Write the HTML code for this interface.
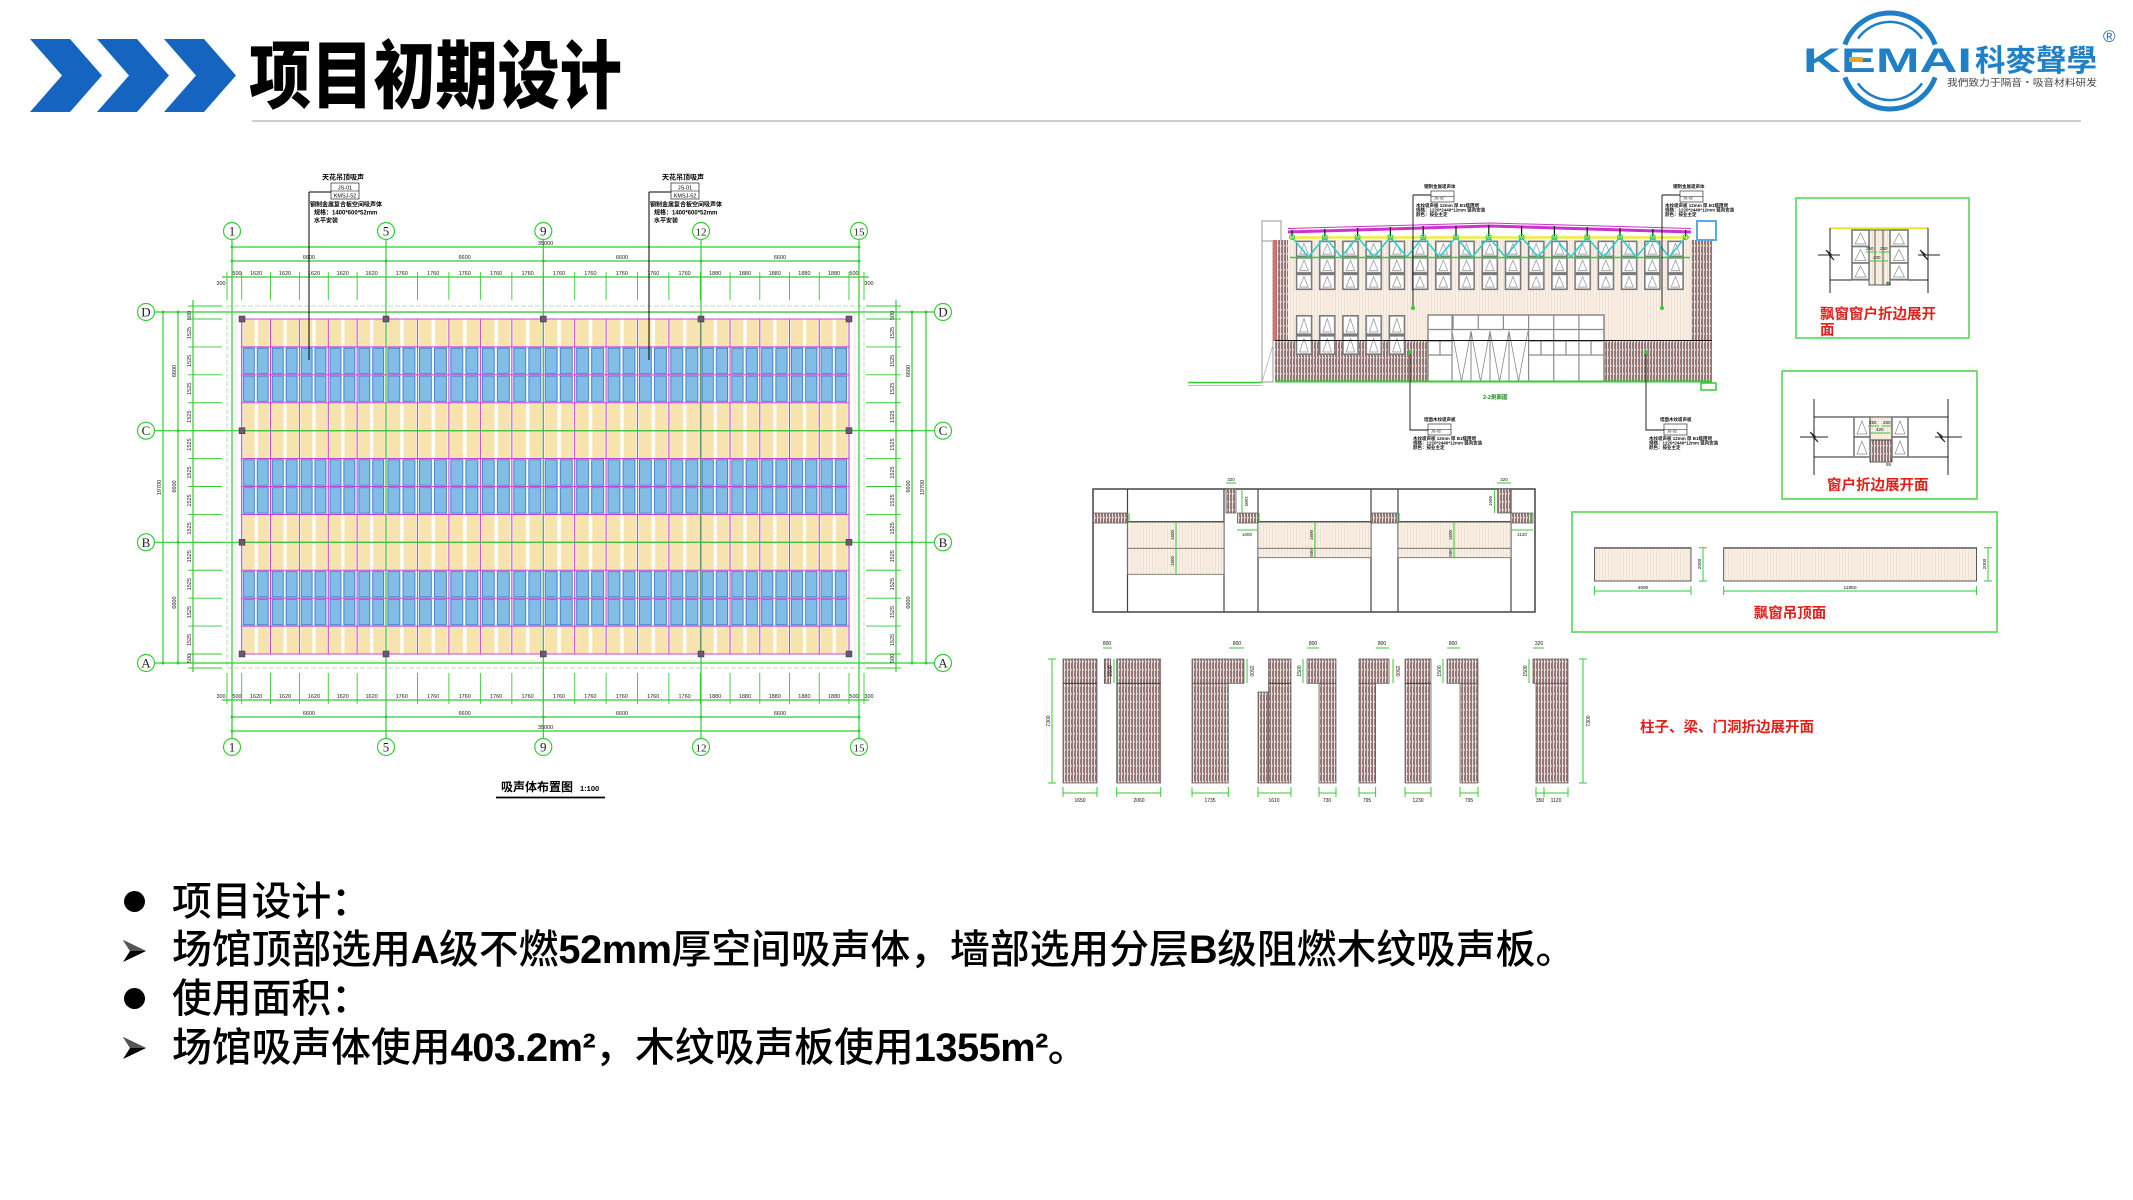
<!DOCTYPE html>
<html><head><meta charset="utf-8">
<style>
html,body{margin:0;padding:0;background:#fff;}
body{width:2133px;height:1200px;position:relative;overflow:hidden;font-family:"Liberation Sans","Noto Sans CJK SC",sans-serif;}
svg{position:absolute;left:0;top:0;}
.t{position:absolute;left:172px;font-size:39.8px;line-height:39.8px;white-space:nowrap;color:#000;font-weight:500;}
.t b{font-family:"Liberation Sans",sans-serif;font-weight:bold;letter-spacing:-0.5px;}
.title{position:absolute;left:249px;top:40px;font-size:74px;line-height:74px;font-weight:900;transform:scaleX(0.84);transform-origin:0 0;white-space:nowrap;color:#000;font-family:"Liberation Sans","Noto Sans CJK SC",sans-serif;}
.dot{position:absolute;left:124px;width:21px;height:21px;border-radius:50%;background:#000;}
</style></head><body>

<svg width="2133" height="1200" viewBox="0 0 2133 1200" xmlns="http://www.w3.org/2000/svg" font-family="Liberation Sans, Noto Sans CJK SC, sans-serif">
<defs>
<pattern id="pg1" patternUnits="userSpaceOnUse" x="241.7" y="319" width="28.86" height="111.67">
 <rect x="1.15" y="0" width="11.83" height="27.92" fill="#f6e3ae"/><rect x="16.16" y="0" width="11.54" height="27.92" fill="#f6e3ae"/>
 <rect x="1.15" y="83.75" width="11.83" height="27.92" fill="#f6e3ae"/><rect x="16.16" y="83.75" width="11.54" height="27.92" fill="#f6e3ae"/>
 <g fill="#82bde5" stroke="#3777d2" stroke-width="0.9">
 <rect x="1.73" y="29.1" width="10.97" height="25.5"/><rect x="15.58" y="29.1" width="10.97" height="25.5"/>
 <rect x="1.73" y="57" width="10.97" height="25.5"/><rect x="15.58" y="57" width="10.97" height="25.5"/></g>
</pattern>
<pattern id="pg2" patternUnits="userSpaceOnUse" x="386" y="319" width="31.46" height="111.67">
 <rect x="1.26" y="0" width="12.9" height="27.92" fill="#f6e3ae"/><rect x="17.62" y="0" width="12.58" height="27.92" fill="#f6e3ae"/>
 <rect x="1.26" y="83.75" width="12.9" height="27.92" fill="#f6e3ae"/><rect x="17.62" y="83.75" width="12.58" height="27.92" fill="#f6e3ae"/>
 <g fill="#82bde5" stroke="#3777d2" stroke-width="0.9">
 <rect x="1.89" y="29.1" width="11.95" height="25.5"/><rect x="16.99" y="29.1" width="11.95" height="25.5"/>
 <rect x="1.89" y="57" width="11.95" height="25.5"/><rect x="16.99" y="57" width="11.95" height="25.5"/></g>
</pattern>
<pattern id="pg3" patternUnits="userSpaceOnUse" x="543.3" y="319" width="31.4" height="111.67">
 <rect x="1.26" y="0" width="12.87" height="27.92" fill="#f6e3ae"/><rect x="17.58" y="0" width="12.56" height="27.92" fill="#f6e3ae"/>
 <rect x="1.26" y="83.75" width="12.87" height="27.92" fill="#f6e3ae"/><rect x="17.58" y="83.75" width="12.56" height="27.92" fill="#f6e3ae"/>
 <g fill="#82bde5" stroke="#3777d2" stroke-width="0.9">
 <rect x="1.88" y="29.1" width="11.93" height="25.5"/><rect x="16.96" y="29.1" width="11.93" height="25.5"/>
 <rect x="1.88" y="57" width="11.93" height="25.5"/><rect x="16.96" y="57" width="11.93" height="25.5"/></g>
</pattern>
<pattern id="pg4" patternUnits="userSpaceOnUse" x="700.3" y="319" width="29.74" height="111.67">
 <rect x="1.19" y="0" width="12.19" height="27.92" fill="#f6e3ae"/><rect x="16.65" y="0" width="11.9" height="27.92" fill="#f6e3ae"/>
 <rect x="1.19" y="83.75" width="12.19" height="27.92" fill="#f6e3ae"/><rect x="16.65" y="83.75" width="11.9" height="27.92" fill="#f6e3ae"/>
 <g fill="#82bde5" stroke="#3777d2" stroke-width="0.9">
 <rect x="1.78" y="29.1" width="11.3" height="25.5"/><rect x="16.06" y="29.1" width="11.3" height="25.5"/>
 <rect x="1.78" y="57" width="11.3" height="25.5"/><rect x="16.06" y="57" width="11.3" height="25.5"/></g>
</pattern>
<pattern id="brick" patternUnits="userSpaceOnUse" width="3" height="8">
 <rect width="3" height="8" fill="#937775"/><rect x="2" width="1" height="8" fill="#eadfdf"/><rect x="0" y="5" width="1" height="1.5" fill="#ddd0d0"/>
</pattern>
<pattern id="beige" patternUnits="userSpaceOnUse" width="3" height="10">
 <rect width="3" height="10" fill="#f9efe4"/><rect width="0.6" height="10" fill="#e9d9c6"/>
</pattern>
<pattern id="win" patternUnits="userSpaceOnUse" x="1295.7" y="240.6" width="23.22" height="16.5">
 <rect x="0.8" y="0.8" width="15.1" height="14.9" fill="#fff" stroke="#7a7a7a" stroke-width="1.6"/>
 <path d="M4 13.5 L8.3 3 L12.6 13.5 Z" fill="none" stroke="#8a8a8a" stroke-width="0.7"/>
</pattern>
<pattern id="win2" patternUnits="userSpaceOnUse" x="1295.7" y="315" width="23.22" height="20">
 <rect x="0.8" y="0.8" width="15.1" height="18.4" fill="#fff" stroke="#7a7a7a" stroke-width="1.6"/>
 <path d="M4 17 L8.3 3.5 L12.6 17 Z" fill="none" stroke="#8a8a8a" stroke-width="0.7"/>
</pattern>
</defs>

<!-- header chevrons -->
<g fill="#1565c0">
<polygon points="30,39 70,39 102,75.5 70,112 30,112 62,75.5"/>
<polygon points="97,39 137,39 169,75.5 137,112 97,112 129,75.5"/>
<polygon points="164,39 204,39 236,75.5 204,112 164,112 196,75.5"/>
</g>
<rect x="252" y="120" width="1829" height="2" fill="#cfcfcf"/>

<!-- logo -->
<g fill="none" stroke="#1f7fc6">
<path d="M1844.9 44.6 A48 48 0 0 1 1935.1 44.6" stroke-width="5"/>
<path d="M1935.1 77.4 A48 48 0 0 1 1844.9 77.4" stroke-width="5"/>
<path d="M1858 38.6 A39 39 0 0 1 1922 38.6" stroke-width="2.5"/>
<path d="M1922 83.4 A39 39 0 0 1 1858 83.4" stroke-width="2.5"/>
</g>
<rect x="1818" y="47" width="168" height="26" fill="#fff"/>
<text x="1803" y="72" font-size="34" font-weight="bold" fill="#1f80c8" textLength="169" lengthAdjust="spacingAndGlyphs">KEMAI</text>
<rect x="1849" y="57" width="14" height="5" fill="#f0a030"/>
<text x="1975" y="71" font-size="30" font-weight="bold" fill="#1f80c8" textLength="122" lengthAdjust="spacingAndGlyphs">科麥聲學</text>
<text x="1947" y="86" font-size="9.5" fill="#444" textLength="150" lengthAdjust="spacingAndGlyphs">我們致力于隔音・吸音材料研发</text>
<text x="2103" y="42" font-size="17" fill="#1f6fb5">®</text>

<!-- ============ PLAN ============ -->
<rect x="227" y="306" width="637" height="362" fill="none" stroke="#cfcfcf" stroke-width="1" stroke-dasharray="5 2"/>
<rect x="236" y="313" width="619" height="348" fill="none" stroke="#dedede" stroke-width="0.8"/>
<rect x="241.7" y="319" width="144.3" height="335" fill="url(#pg1)"/>
<rect x="386" y="319" width="157.3" height="335" fill="url(#pg2)"/>
<rect x="543.3" y="319" width="157" height="335" fill="url(#pg3)"/>
<rect x="700.3" y="319" width="148.7" height="335" fill="url(#pg4)"/>
<path fill="none" stroke="#c844d4" stroke-width="1.1" d="M241.7 319V654M270.56 319V654M299.42 319V654M328.28 319V654M357.14 319V654M386 319V654M417.46 319V654M448.92 319V654M480.38 319V654M511.84 319V654M543.3 319V654M574.7 319V654M606.1 319V654M637.5 319V654M668.9 319V654M700.3 319V654M730.04 319V654M759.78 319V654M789.52 319V654M819.26 319V654M849 319V654M241.7 319H849M241.7 346.92H849M241.7 374.83H849M241.7 402.75H849M241.7 430.67H849M241.7 458.58H849M241.7 486.5H849M241.7 514.42H849M241.7 542.33H849M241.7 570.25H849M241.7 598.17H849M241.7 626.08H849M241.7 654H849"/>

<!-- green grid -->
<g stroke="#33cc33" stroke-width="1.2" fill="none">
<path d="M232 239V739M386 239V739M543.3 239V739M701 239V739M859 239V739"/>
<path d="M154 312H935M154 430.7H935M154 542.3H935M154 663H935"/>
<path d="M232 247H859M232 261H859M222 277H869M222 700H869M232 717H859M232 731H859"/>
<path d="M163 312V663M178 312V663M193 300V672M896 300V672M912 312V663M926 312V663"/>
<path stroke-width="0.9" d="M227 272V300M232 272V300M241.7 272V300M270.56 272V300M299.42 272V300M328.28 272V300M357.14 272V300M386 272V300M417.46 272V300M448.92 272V300M480.38 272V300M511.84 272V300M543.3 272V300M574.7 272V300M606.1 272V300M637.5 272V300M668.9 272V300M700.3 272V300M730.04 272V300M759.78 272V300M789.52 272V300M819.26 272V300M849 272V300M859 272V300M864 272V300"/>
<path stroke-width="0.9" d="M227 673V704M232 673V704M241.7 673V704M270.56 673V704M299.42 673V704M328.28 673V704M357.14 673V704M386 673V704M417.46 673V704M448.92 673V704M480.38 673V704M511.84 673V704M543.3 673V704M574.7 673V704M606.1 673V704M637.5 673V704M668.9 673V704M700.3 673V704M730.04 673V704M759.78 673V704M789.52 673V704M819.26 673V704M849 673V704M859 673V704M864 673V704"/>
<path stroke-width="0.9" d="M188 306H222M188 312H222M188 319H222M188 346.92H222M188 374.83H222M188 402.75H222M188 430.67H222M188 458.58H222M188 486.5H222M188 514.42H222M188 542.33H222M188 570.25H222M188 598.17H222M188 626.08H222M188 654H222M188 663H222M188 668H222"/>
<path stroke-width="0.9" d="M866 306H901M866 312H901M866 319H901M866 346.92H901M866 374.83H901M866 402.75H901M866 430.67H901M866 458.58H901M866 486.5H901M866 514.42H901M866 542.33H901M866 570.25H901M866 598.17H901M866 626.08H901M866 654H901M866 663H901M866 668H901"/>
</g>
<g fill="#33cc33">
<circle cx="232" cy="247" r="1.5"/><circle cx="859" cy="247" r="1.5"/><circle cx="232" cy="261" r="1.5"/><circle cx="386" cy="261" r="1.5"/><circle cx="543.3" cy="261" r="1.5"/><circle cx="701" cy="261" r="1.5"/><circle cx="859" cy="261" r="1.5"/>
<circle cx="232" cy="731" r="1.5"/><circle cx="859" cy="731" r="1.5"/><circle cx="232" cy="717" r="1.5"/><circle cx="386" cy="717" r="1.5"/><circle cx="543.3" cy="717" r="1.5"/><circle cx="701" cy="717" r="1.5"/><circle cx="859" cy="717" r="1.5"/>
<circle cx="163" cy="312" r="1.5"/><circle cx="163" cy="663" r="1.5"/><circle cx="178" cy="312" r="1.5"/><circle cx="178" cy="430.7" r="1.5"/><circle cx="178" cy="542.3" r="1.5"/><circle cx="178" cy="663" r="1.5"/>
<circle cx="926" cy="312" r="1.5"/><circle cx="926" cy="663" r="1.5"/><circle cx="912" cy="312" r="1.5"/><circle cx="912" cy="430.7" r="1.5"/><circle cx="912" cy="542.3" r="1.5"/><circle cx="912" cy="663" r="1.5"/>
</g>

<!-- axis circles -->
<g fill="#fff" stroke="#33cc33" stroke-width="1.2">
<circle cx="232" cy="231" r="8.5"/><circle cx="386" cy="231" r="8.5"/><circle cx="543.3" cy="231" r="8.5"/><circle cx="701" cy="231" r="8.5"/><circle cx="859" cy="231" r="8.5"/>
<circle cx="232" cy="747" r="8.5"/><circle cx="386" cy="747" r="8.5"/><circle cx="543.3" cy="747" r="8.5"/><circle cx="701" cy="747" r="8.5"/><circle cx="859" cy="747" r="8.5"/>
<circle cx="146" cy="312" r="8.5"/><circle cx="146" cy="430.7" r="8.5"/><circle cx="146" cy="542.3" r="8.5"/><circle cx="146" cy="663" r="8.5"/>
<circle cx="943" cy="312" r="8.5"/><circle cx="943" cy="430.7" r="8.5"/><circle cx="943" cy="542.3" r="8.5"/><circle cx="943" cy="663" r="8.5"/>
</g>
<g font-family="Liberation Serif, serif" font-size="13" fill="#222" text-anchor="middle">
<text x="232" y="235.5">1</text><text x="386" y="235.5">5</text><text x="543.3" y="235.5">9</text><text x="701" y="235.5" font-size="11">12</text><text x="859" y="235.5" font-size="11">15</text>
<text x="232" y="751.5">1</text><text x="386" y="751.5">5</text><text x="543.3" y="751.5">9</text><text x="701" y="751.5" font-size="11">12</text><text x="859" y="751.5" font-size="11">15</text>
<text x="146" y="316.5">D</text><text x="146" y="435.2">C</text><text x="146" y="546.8">B</text><text x="146" y="667.5">A</text>
<text x="943" y="316.5">D</text><text x="943" y="435.2">C</text><text x="943" y="546.8">B</text><text x="943" y="667.5">A</text>
</g>

<!-- column markers -->
<g fill="#6a5a70" stroke="#333" stroke-width="0.5">
<rect x="239" y="316" width="6" height="6"/><rect x="383" y="316" width="6" height="6"/><rect x="540.3" y="316" width="6" height="6"/><rect x="698" y="316" width="6" height="6"/><rect x="846" y="316" width="6" height="6"/>
<rect x="239" y="651" width="6" height="6"/><rect x="383" y="651" width="6" height="6"/><rect x="540.3" y="651" width="6" height="6"/><rect x="698" y="651" width="6" height="6"/><rect x="846" y="651" width="6" height="6"/>
<rect x="239" y="427.7" width="6" height="6"/><rect x="846" y="427.7" width="6" height="6"/><rect x="239" y="539.3" width="6" height="6"/><rect x="846" y="539.3" width="6" height="6"/>
</g>

<!-- plan dim text -->
<g font-size="5.5" fill="#222" text-anchor="middle">
<text x="545.5" y="245">35000</text>
<text x="309" y="259">6600</text><text x="464.6" y="259">6600</text><text x="622" y="259">6600</text><text x="780" y="259">6600</text>
<text x="221" y="285">300</text><text x="237" y="275">500</text><text x="854" y="275">500</text><text x="869" y="285">300</text>
<text x="256.1" y="275">1620</text><text x="285" y="275">1620</text><text x="313.9" y="275">1620</text><text x="342.7" y="275">1620</text><text x="371.6" y="275">1620</text>
<text x="401.7" y="275">1760</text><text x="433.2" y="275">1760</text><text x="464.7" y="275">1760</text><text x="496.1" y="275">1760</text><text x="527.6" y="275">1760</text>
<text x="559" y="275">1760</text><text x="590.4" y="275">1760</text><text x="621.8" y="275">1760</text><text x="653.2" y="275">1760</text><text x="684.6" y="275">1760</text>
<text x="715.2" y="275">1880</text><text x="744.9" y="275">1880</text><text x="774.7" y="275">1880</text><text x="804.4" y="275">1880</text><text x="834.1" y="275">1880</text>
<text x="221" y="698">300</text><text x="237" y="698">500</text><text x="854" y="698">500</text><text x="869" y="698">300</text>
<text x="256.1" y="698">1620</text><text x="285" y="698">1620</text><text x="313.9" y="698">1620</text><text x="342.7" y="698">1620</text><text x="371.6" y="698">1620</text>
<text x="401.7" y="698">1760</text><text x="433.2" y="698">1760</text><text x="464.7" y="698">1760</text><text x="496.1" y="698">1760</text><text x="527.6" y="698">1760</text>
<text x="559" y="698">1760</text><text x="590.4" y="698">1760</text><text x="621.8" y="698">1760</text><text x="653.2" y="698">1760</text><text x="684.6" y="698">1760</text>
<text x="715.2" y="698">1880</text><text x="744.9" y="698">1880</text><text x="774.7" y="698">1880</text><text x="804.4" y="698">1880</text><text x="834.1" y="698">1880</text>
<text x="309" y="715">6600</text><text x="464.6" y="715">6600</text><text x="622" y="715">6600</text><text x="780" y="715">6600</text>
<text x="545.5" y="729">35000</text>
</g>
<g font-size="5.5" fill="#222" text-anchor="middle">
<text transform="translate(161,487.5) rotate(-90)">19700</text>
<text transform="translate(176,371) rotate(-90)">6600</text><text transform="translate(176,486.5) rotate(-90)">6600</text><text transform="translate(176,602.6) rotate(-90)">6600</text>
<text transform="translate(191,315.5) rotate(-90)">500</text>
<text transform="translate(191,333) rotate(-90)">1525</text><text transform="translate(191,360.9) rotate(-90)">1525</text><text transform="translate(191,388.8) rotate(-90)">1525</text><text transform="translate(191,416.7) rotate(-90)">1525</text><text transform="translate(191,444.6) rotate(-90)">1525</text><text transform="translate(191,472.5) rotate(-90)">1525</text><text transform="translate(191,500.5) rotate(-90)">1525</text><text transform="translate(191,528.4) rotate(-90)">1525</text><text transform="translate(191,556.3) rotate(-90)">1525</text><text transform="translate(191,584.2) rotate(-90)">1525</text><text transform="translate(191,612.1) rotate(-90)">1525</text><text transform="translate(191,640) rotate(-90)">1525</text>
<text transform="translate(191,658.5) rotate(-90)">500</text>
<text transform="translate(924,487.5) rotate(-90)">19700</text>
<text transform="translate(910,371) rotate(-90)">6600</text><text transform="translate(910,486.5) rotate(-90)">6600</text><text transform="translate(910,602.6) rotate(-90)">6600</text>
<text transform="translate(894,315.5) rotate(-90)">500</text>
<text transform="translate(894,333) rotate(-90)">1525</text><text transform="translate(894,360.9) rotate(-90)">1525</text><text transform="translate(894,388.8) rotate(-90)">1525</text><text transform="translate(894,416.7) rotate(-90)">1525</text><text transform="translate(894,444.6) rotate(-90)">1525</text><text transform="translate(894,472.5) rotate(-90)">1525</text><text transform="translate(894,500.5) rotate(-90)">1525</text><text transform="translate(894,528.4) rotate(-90)">1525</text><text transform="translate(894,556.3) rotate(-90)">1525</text><text transform="translate(894,584.2) rotate(-90)">1525</text><text transform="translate(894,612.1) rotate(-90)">1525</text><text transform="translate(894,640) rotate(-90)">1525</text>
<text transform="translate(894,658.5) rotate(-90)">500</text>
</g>

<!-- plan leaders -->
<g stroke="#000" stroke-width="1" fill="none">
<path d="M309 192H331M309 192V360"/><rect x="331" y="183" width="28" height="16" stroke-width="0.6"/><path d="M331 191H359" stroke-width="0.6"/>
<path d="M649 192H671M649 192V360"/><rect x="671" y="183" width="28" height="16" stroke-width="0.6"/><path d="M671 191H699" stroke-width="0.6"/>
</g>
<g fill="#000">
<text x="343" y="179.5" font-size="7" font-weight="bold" text-anchor="middle">天花吊顶吸声</text>
<text x="345" y="189.5" font-size="5.5" text-anchor="middle">JS-01</text><text x="345" y="197.5" font-size="5.5" text-anchor="middle">KMSJ-52</text>
<text x="310" y="206.5" font-size="6" font-weight="bold">钢制金属复合板空间吸声体</text>
<text x="314" y="214.5" font-size="6" font-weight="bold">规格：1400*600*52mm</text>
<text x="314" y="222.5" font-size="6" font-weight="bold">水平安装</text>
<text x="683" y="179.5" font-size="7" font-weight="bold" text-anchor="middle">天花吊顶吸声</text>
<text x="685" y="189.5" font-size="5.5" text-anchor="middle">JS-01</text><text x="685" y="197.5" font-size="5.5" text-anchor="middle">KMSJ-52</text>
<text x="650" y="206.5" font-size="6" font-weight="bold">钢制金属复合板空间吸声体</text>
<text x="654" y="214.5" font-size="6" font-weight="bold">规格：1400*600*52mm</text>
<text x="654" y="222.5" font-size="6" font-weight="bold">水平安装</text>
</g>
<text x="501" y="791" font-size="12" font-weight="bold" fill="#000">吸声体布置图</text>
<text x="580" y="791" font-size="7.5" font-weight="bold" fill="#000">1:100</text>
<path d="M496 797.5H605" stroke="#000" stroke-width="1.8"/>

<!-- ============ ELEVATION ============ -->
<path d="M1188 382.5H1262" stroke="#33cc33" stroke-width="1.5"/>
<path d="M1188 385.5H1262" stroke="#aaa" stroke-width="0.8"/>
<rect x="1262" y="221" width="19" height="20" fill="#fff" stroke="#999" stroke-width="1"/>
<rect x="1262" y="241" width="11" height="141" fill="#fff" stroke="#999" stroke-width="1"/>
<path d="M1262 382L1273 345" stroke="#aaa" stroke-width="0.7"/>
<rect x="1288" y="240" width="403" height="100.5" fill="url(#beige)"/>
<rect x="1276" y="240" width="12" height="141.5" fill="url(#brick)"/>
<rect x="1691" y="240" width="21" height="141.5" fill="url(#brick)"/>
<rect x="1273" y="240" width="3.5" height="101" fill="#e46a6a"/>
<rect x="1275" y="340.5" width="153" height="41" fill="url(#brick)"/>
<rect x="1604" y="340.5" width="87" height="41" fill="url(#brick)"/>
<rect x="1697" y="221" width="19" height="19" fill="#fff" stroke="#5aa8e8" stroke-width="2"/>
<rect x="1295.7" y="240.6" width="388.5" height="49.5" fill="url(#win)"/>
<rect x="1295.7" y="315" width="109.9" height="40" fill="url(#win2)"/>
<!-- door block -->
<rect x="1428" y="315" width="176" height="66.5" fill="#fff" stroke="#888" stroke-width="1.5"/>
<g stroke="#8a8a8a" stroke-width="1.2" fill="none">
<path d="M1453.1 315V329.5M1478.3 315V329.5M1503.4 315V329.5M1528.6 315V381.5M1553.7 315V381.5M1578.9 315V381.5M1452 315V381.5M1428 329.5H1604"/>
<path d="M1428 341H1452M1528.6 341H1604M1428 355H1452M1528.6 355H1604M1440 341V355M1541 341V355M1566 341V355M1591 341V355"/>
<path d="M1471 331V381.5M1490 331V381.5M1509 331V381.5" stroke-width="1"/>
<path d="M1452 331L1461.5 381.5L1471 331L1480.5 381.5L1490 331L1499.5 381.5L1509 331L1518.5 381.5L1528 331" stroke-width="0.8"/>
</g>
<path d="M1275 340.5H1712" stroke="#111" stroke-width="1"/>
<path d="M1275 381.5H1712" stroke="#33cc33" stroke-width="2"/>
<rect x="1701" y="383" width="15" height="7" fill="none" stroke="#33cc33" stroke-width="1.5"/>
<!-- roof -->
<path d="M1288 232 L1490 226 L1691 232" fill="none" stroke="#cc33cc" stroke-width="3"/>
<path d="M1288 228.5 L1490 223 L1691 228.5" fill="none" stroke="#cc33cc" stroke-width="1"/>
<path d="M1292 230V237M1324.8 229V237M1357.6 228V237M1390.4 227V237M1423.2 226V237M1456 226V237M1488.8 225V237M1521.6 226V237M1554.4 226V237M1587.2 227V237M1620 228V237M1652.8 229V237M1685.6 230V237" stroke="#111" stroke-width="1.2"/>
<path d="M1290 237.5H1690" stroke="#eded3a" stroke-width="2.5"/>
<polyline fill="none" stroke="#33cccc" stroke-width="1.6" points="1292,237 1308.4,257 1324.8,237 1341.2,257 1357.6,237 1374,257 1390.4,237 1406.8,257 1423.2,237 1439.6,257 1456,237 1472.4,257 1488.8,237 1505.2,257 1521.6,237 1538,257 1554.4,237 1570.8,257 1587.2,237 1603.6,257 1620,237 1636.4,257 1652.8,237 1669.2,257 1685.6,237"/>
<path d="M1290 257.5H1690" stroke="#33cc33" stroke-width="1.5"/>
<g fill="none" stroke="#33cc33" stroke-width="1">
<circle cx="1292" cy="237" r="2.5"/><circle cx="1324.8" cy="237" r="2.5"/><circle cx="1357.6" cy="237" r="2.5"/><circle cx="1390.4" cy="237" r="2.5"/><circle cx="1423.2" cy="237" r="2.5"/><circle cx="1456" cy="237" r="2.5"/><circle cx="1488.8" cy="237" r="2.5"/><circle cx="1521.6" cy="237" r="2.5"/><circle cx="1554.4" cy="237" r="2.5"/><circle cx="1587.2" cy="237" r="2.5"/><circle cx="1620" cy="237" r="2.5"/><circle cx="1652.8" cy="237" r="2.5"/><circle cx="1685.6" cy="237" r="2.5"/>
</g>
<!-- elevation leaders -->
<g stroke="#111" stroke-width="0.9" fill="none">
<path d="M1413 195H1431M1413 195V308"/><rect x="1431" y="191" width="23" height="11" stroke-width="0.6"/><path d="M1431 196.5H1454" stroke-width="0.5"/>
<path d="M1662 195H1680M1662 195V308"/><rect x="1680" y="191" width="23" height="11" stroke-width="0.6"/><path d="M1680 196.5H1703" stroke-width="0.5"/>
<path d="M1410 351V430H1428"/><rect x="1428" y="424" width="23" height="11" stroke-width="0.6"/><path d="M1428 429.5H1451" stroke-width="0.5"/>
<path d="M1646 351V430H1664"/><rect x="1664" y="424" width="23" height="11" stroke-width="0.6"/><path d="M1664 429.5H1687" stroke-width="0.5"/>
</g>
<g fill="#33cc33"><circle cx="1413" cy="308" r="2"/><circle cx="1662" cy="308" r="2"/><circle cx="1410" cy="352" r="2"/><circle cx="1646" cy="352" r="2"/></g>
<g font-size="4.5" fill="#111" font-weight="bold">
<text x="1424" y="188">钢制金属吸声体</text><text x="1416" y="207">木纹吸声板 12mm 厚 B1级阻燃</text><text x="1416" y="211.5">规格：1220*2440*12mm 竖向安装</text><text x="1416" y="216">颜色：按业主定</text>
<text x="1673" y="188">钢制金属吸声体</text><text x="1665" y="207">木纹吸声板 12mm 厚 B1级阻燃</text><text x="1665" y="211.5">规格：1220*2440*12mm 竖向安装</text><text x="1665" y="216">颜色：按业主定</text>
<text x="1424" y="421">墙面木纹吸声板</text><text x="1413" y="440">木纹吸声板 12mm 厚 B1级阻燃</text><text x="1413" y="444.5">规格：1220*2440*12mm 竖向安装</text><text x="1413" y="449">颜色：按业主定</text>
<text x="1660" y="421">墙面木纹吸声板</text><text x="1649" y="440">木纹吸声板 12mm 厚 B1级阻燃</text><text x="1649" y="444.5">规格：1220*2440*12mm 竖向安装</text><text x="1649" y="449">颜色：按业主定</text>
</g>
<g font-size="3.8" fill="#111"><text x="1434" y="199.5">JS-02</text><text x="1683" y="199.5">JS-02</text><text x="1431" y="432.5">JS-02</text><text x="1667" y="432.5">JS-02</text></g>
<text x="1483" y="399" font-size="5.5" fill="#1a8a1a" font-weight="bold">2-2剖面图</text>

<!-- ============ RIGHT BOXES ============ -->
<rect x="1796" y="198" width="173" height="140" fill="none" stroke="#66dd66" stroke-width="1.8"/>
<path d="M1830 228.3H1928" stroke="#e8e830" stroke-width="2"/>
<g stroke="#222" stroke-width="1" fill="none">
<path d="M1830 228V293M1928 228V293M1830 280H1928"/>
<path d="M1818 255H1832L1826 250L1834 260L1829 255H1840"/>
<path d="M1918 255H1926L1920 250L1928 260L1923 255H1940"/>
</g>
<rect x="1869" y="230" width="21" height="55" fill="url(#beige)" stroke="#333" stroke-width="0.8"/>
<path d="M1875 230V285M1883 230V285" stroke="#333" stroke-width="0.8"/>
<g fill="#fff" stroke="#7a7a7a" stroke-width="1.6">
<rect x="1852" y="230" width="17" height="16.5"/><rect x="1852" y="246.5" width="17" height="16.5"/><rect x="1852" y="263" width="17" height="16.5"/>
<rect x="1890" y="230" width="18" height="16.5"/><rect x="1890" y="246.5" width="18" height="16.5"/><rect x="1890" y="263" width="18" height="16.5"/>
</g>
<g fill="none" stroke="#8a8a8a" stroke-width="0.7">
<path d="M1855 244L1860.5 233L1866 244ZM1855 260.5L1860.5 249.5L1866 260.5ZM1855 277L1860.5 266L1866 277Z"/>
<path d="M1893.5 244L1899 233L1904.5 244ZM1893.5 260.5L1899 249.5L1904.5 260.5ZM1893.5 277L1899 266L1904.5 277Z"/>
</g>
<path d="M1866 252H1877M1879 252H1891M1869 261H1888M1888 281V286" stroke="#33cc33" stroke-width="1"/>
<g font-size="4.5" fill="#111"><text x="1866" y="250">250</text><text x="1880" y="250">250</text><text x="1873" y="259">430</text><text x="1886" y="285">95</text></g>
<text x="1820" y="319" font-size="14.5" font-weight="bold" fill="#e0201a">飘窗窗户折边展开</text>
<text x="1820" y="335" font-size="14.5" font-weight="bold" fill="#e0201a">面</text>

<rect x="1782" y="371" width="195" height="128" fill="none" stroke="#66dd66" stroke-width="1.8"/>
<g stroke="#222" stroke-width="1" fill="none">
<path d="M1814 399V475M1948 399V475M1814 417H1948M1814 457H1948"/>
<path d="M1800 437H1816L1810 432L1818 442L1813 437H1828"/>
<path d="M1935 437H1943L1937 432L1945 442L1940 437H1962"/>
</g>
<rect x="1870" y="417" width="22" height="23" fill="url(#beige)" stroke="#333" stroke-width="0.8"/>
<rect x="1870" y="440" width="22" height="22" fill="url(#brick)" stroke="#333" stroke-width="0.8"/>
<g fill="#fff" stroke="#7a7a7a" stroke-width="1.6">
<rect x="1854" y="417" width="16" height="20"/><rect x="1854" y="437" width="16" height="20"/>
<rect x="1892" y="417" width="16" height="20"/><rect x="1892" y="437" width="16" height="20"/>
</g>
<g fill="none" stroke="#8a8a8a" stroke-width="0.7">
<path d="M1857 434L1862 421L1867 434ZM1857 454L1862 441L1867 454ZM1895 434L1900 421L1905 434ZM1895 454L1900 441L1905 454Z"/>
</g>
<path d="M1868 426H1879M1882 426H1893M1871 433H1890" stroke="#33cc33" stroke-width="1"/>
<g font-size="4.5" fill="#111"><text x="1869" y="424">250</text><text x="1883" y="424">250</text><text x="1876" y="431">420</text><text x="1886" y="466">95</text></g>
<text x="1827" y="490" font-size="14.5" font-weight="bold" fill="#e0201a">窗户折边展开面</text>

<!-- middle drawing -->
<rect x="1093" y="489" width="442" height="123" fill="#fff" stroke="#444" stroke-width="1.5"/>
<path d="M1127.5 489V612M1224 489V612M1258 489V612M1371 489V612M1398 489V612M1511 489V612" stroke="#444" stroke-width="1.2"/>
<g stroke="#666" stroke-width="0.8">
<rect x="1127.5" y="521.7" width="96.5" height="52.6" fill="url(#beige)"/>
<rect x="1258" y="521.7" width="113" height="36" fill="url(#beige)"/>
<rect x="1398" y="521.7" width="113" height="36" fill="url(#beige)"/>
<path d="M1127.5 548.3H1224M1258 548.3H1371M1398 548.3H1511"/>
</g>
<path d="M1127.5 521.7H1224M1258 521.7H1371M1398 521.7H1511" stroke="#555" stroke-width="1.5"/>
<g stroke="#555" stroke-width="0.7" fill="url(#brick)">
<rect x="1093" y="513" width="34.5" height="10"/><rect x="1226" y="489" width="10" height="24"/><rect x="1237.5" y="513" width="20.5" height="10"/>
<rect x="1371" y="513" width="27" height="10"/><rect x="1497.6" y="489" width="13.4" height="24"/><rect x="1511" y="513" width="22" height="10"/>
</g>
<g stroke="#33cc33" stroke-width="1" fill="none">
<path d="M1176 521.7V574.3M1315 521.7V557.7M1454 521.7V557.7M1242 489V513M1237 530H1258M1494.6 489V513M1511 530H1533M1129 513V523M1259 513V523M1399 513V523M1531 513V523M1226 483H1236M1497 483H1511"/>
</g>
<g font-size="4.5" fill="#111" text-anchor="middle">
<text transform="translate(1174,535) rotate(-90)">1600</text><text transform="translate(1174,561) rotate(-90)">1500</text>
<text transform="translate(1313,535) rotate(-90)">1600</text><text transform="translate(1313,553) rotate(-90)">500</text>
<text transform="translate(1452,535) rotate(-90)">1600</text><text transform="translate(1452,553) rotate(-90)">500</text>
<text transform="translate(1245,501) rotate(90)">1500</text><text transform="translate(1492,501) rotate(-90)">1500</text>
<text x="1247" y="536">1000</text><text x="1522" y="536">1120</text><text x="1231" y="481">320</text><text x="1504" y="481">320</text>
</g>

<!-- box3 -->
<rect x="1572" y="512" width="425" height="120" fill="none" stroke="#66dd66" stroke-width="1.8"/>
<rect x="1594.6" y="547.7" width="96.4" height="33.3" fill="url(#beige)" stroke="#333" stroke-width="0.8"/>
<rect x="1723.7" y="547.7" width="252.9" height="33.3" fill="url(#beige)" stroke="#333" stroke-width="0.8"/>
<path d="M1594.6 548H1691M1723.7 548H1976.6" stroke="#666" stroke-width="1.6"/>
<g stroke="#33cc33" stroke-width="1" fill="none">
<path d="M1594.6 591H1691M1723.7 591H1976.6M1594.6 586V595M1691 586V595M1723.7 586V595M1976.6 586V595M1703 547.7V581M1988 547.7V581M1699 547.7H1707M1699 581H1707M1984 547.7H1992M1984 581H1992"/>
</g>
<g font-size="4.8" fill="#111" text-anchor="middle">
<text x="1643" y="589">4590</text><text x="1850" y="589">11850</text>
<text transform="translate(1701,564) rotate(-90)">2000</text><text transform="translate(1986,564) rotate(-90)">2000</text>
</g>
<text x="1790" y="618" font-size="14.5" font-weight="bold" fill="#e0201a" text-anchor="middle">飘窗吊顶面</text>

<!-- strips -->
<g stroke="#555" stroke-width="0.7" fill="url(#brick)">
<rect x="1063" y="659" width="34" height="124"/>
<rect x="1104.3" y="659" width="6.4" height="24.3"/>
<rect x="1116.7" y="659" width="44" height="124"/>
<rect x="1192" y="659" width="52" height="24.3"/><rect x="1192" y="683.3" width="36.3" height="99.7"/>
<rect x="1268.5" y="659" width="22.5" height="124"/><rect x="1258" y="692" width="10.5" height="91"/>
<rect x="1307" y="659" width="29" height="24.3"/><rect x="1319" y="683.3" width="17" height="99.7"/>
<rect x="1359" y="659" width="30" height="24.3"/><rect x="1359" y="683.3" width="16.6" height="99.7"/>
<rect x="1405" y="659" width="26" height="124"/>
<rect x="1447" y="659" width="31" height="24.3"/><rect x="1460" y="683.3" width="18" height="99.7"/>
<rect x="1533" y="659" width="35" height="24.3"/><rect x="1536" y="683.3" width="32" height="99.7"/>
</g>
<path d="M1063 683.3H1097M1116.7 683.3H1160.7M1268.5 683.3H1291M1405 683.3H1431" stroke="#333" stroke-width="0.8"/>
<g stroke="#33cc33" stroke-width="1" fill="none">
<path d="M1052 659V783M1048 659H1056M1048 783H1056M1583 659V783M1579 659H1587M1579 783H1587"/>
<path d="M1063 793H1097M1116.7 793H1160.7M1192 793H1228.3M1258 793H1291M1319 793H1336M1359 793H1375.6M1405 793H1431M1460 793H1478M1536 793H1568"/>
<path d="M1063 787V797M1097 787V797M1116.7 787V797M1160.7 787V797M1192 787V797M1228.3 787V797M1258 787V797M1291 787V797M1319 787V797M1336 787V797M1359 787V797M1375.6 787V797M1405 787V797M1431 787V797M1460 787V797M1478 787V797M1536 787V797M1544 787V797M1568 787V797"/>
<path d="M1103 648H1112M1229 648H1244M1307 648H1319M1375.6 648H1389M1447 648H1460M1533 648H1544"/>
<path d="M1114 659V683M1247 659V683M1303 659V683M1393 659V683M1443 659V683M1529 659V683"/>
</g>
<g font-size="5" fill="#111" text-anchor="middle">
<text x="1080" y="802">1650</text><text x="1139" y="802">2060</text><text x="1210" y="802">1735</text><text x="1274" y="802">1610</text><text x="1327" y="802">730</text><text x="1367" y="802">795</text><text x="1418" y="802">1230</text><text x="1469" y="802">795</text><text x="1540" y="802">350</text><text x="1556" y="802">1120</text>
<text x="1107" y="645">800</text><text x="1237" y="645">800</text><text x="1313" y="645">800</text><text x="1382" y="645">800</text><text x="1453" y="645">800</text><text x="1539" y="645">320</text>
<text transform="translate(1050,721) rotate(-90)">7300</text><text transform="translate(1590,721) rotate(-90)">7300</text>
<text transform="translate(1112,671) rotate(-90)">1500</text><text transform="translate(1250,671) rotate(90)">1500</text><text transform="translate(1301,671) rotate(-90)">1500</text><text transform="translate(1396,671) rotate(90)">1500</text><text transform="translate(1441,671) rotate(-90)">1500</text><text transform="translate(1527,671) rotate(-90)">1500</text>
</g>
<text x="1640" y="732" font-size="14.5" font-weight="bold" fill="#e0201a">柱子、梁、门洞折边展开面</text>

<!-- arrows for body text -->
<g>
<polygon points="123,940 146,951 123,962 130,951" fill="#000"/>
<polygon points="123,940 146,951 130,951" fill="#555"/>
<polygon points="123,1037 146,1048 123,1059 130,1048" fill="#000"/>
<polygon points="123,1037 146,1048 130,1048" fill="#555"/>
</g>
</svg>

<div class="title">项目初期设计</div>

<div class="dot" style="top:891px"></div>
<div class="t" style="top:883px">项目设计：</div>
<div class="t" style="top:931px">场馆顶部选用<b>A</b>级不燃<b>52mm</b>厚空间吸声体，墙部选用分层<b>B</b>级阻燃木纹吸声板。</div>
<div class="dot" style="top:988px"></div>
<div class="t" style="top:980px">使用面积：</div>
<div class="t" style="top:1029px">场馆吸声体使用<b>403.2m²</b>，木纹吸声板使用<b>1355m²</b>。</div>

</body></html>
